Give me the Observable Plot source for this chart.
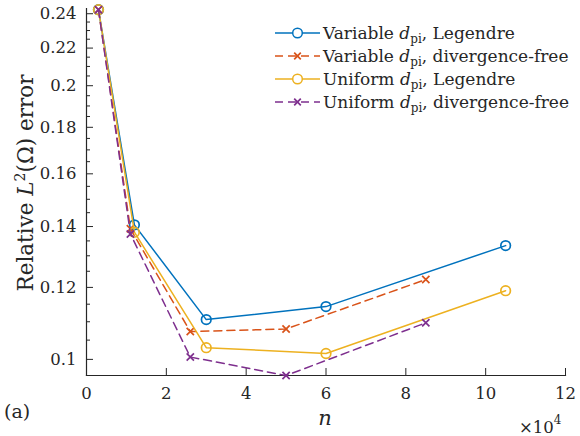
<!DOCTYPE html>
<html><head><meta charset="utf-8">
<script src="https://cdn.jsdelivr.net/npm/d3@7"></script>
<script src="https://cdn.jsdelivr.net/npm/@observablehq/plot@0.6"></script>
<style>
body{margin:0;background:#fff;}
#chart{position:relative;width:580px;height:436px;}
</style>
</head><body><div id="chart"></div>
<script>
// Degrees of freedom n for each marker type
const nCircle = [3000, 12000, 30000, 60000, 105000];
const nCross  = [3000, 11000, 26000, 50000, 85000];

// Relative L2 errors
const variableLegendre = [0.2425, 0.1406, 0.1106, 0.1143, 0.1334];
const variableDivFree  = [0.2425, 0.1392, 0.1073, 0.1080, 0.1224];
const uniformLegendre  = [0.2425, 0.1380, 0.1030, 0.1015, 0.1190];
const uniformDivFree   = [0.2425, 0.1374, 0.1006, 0.0960, 0.1097];

const seriesLabels = [
  ["Variable ", ", Legendre"],
  ["Variable ", ", divergence-free"],
  ["Uniform ", ", Legendre"],
  ["Uniform ", ", divergence-free"]
];
const seriesColors = ["#0072BD", "#D95319", "#EDB120", "#7E2F8E"];

const xTicks = [0, 20000, 40000, 60000, 80000, 100000, 120000];
const yTicks = [0.1, 0.12, 0.14, 0.16, 0.18, 0.2, 0.22, 0.24];
const yMinorTicks = [0.105, 0.11, 0.115, 0.125, 0.13, 0.135, 0.145, 0.15, 0.155,
  0.165, 0.17, 0.175, 0.185, 0.19, 0.195, 0.205, 0.21, 0.215, 0.225, 0.23, 0.235];

const series = [
  {x: nCircle, y: variableLegendre, color: seriesColors[0], dash: null, symbol: "circle"},
  {x: nCross,  y: variableDivFree,  color: seriesColors[1], dash: "8,5", symbol: "times"},
  {x: nCircle, y: uniformLegendre,  color: seriesColors[2], dash: null, symbol: "circle"},
  {x: nCross,  y: uniformDivFree,   color: seriesColors[3], dash: "8,5", symbol: "times"}
];

const W = 580, H = 436, mL = 86, mR = 15, mT = 8, mB = 61;
const plotW = W - mL - mR, plotH = H - mT - mB;
const ink = "#262626";
const txtFont = "DejaVu Serif";

const marks = [
  Plot.axisX(xTicks, {tickSize: 0, tickPadding: 12, tickFormat: d => String(d / 1e4), label: null,
    fill: ink, fontFamily: txtFont, fontSize: 16.5}),
  Plot.axisY(yTicks, {tickSize: 0, tickPadding: 10, tickFormat: d => String(d), label: null,
    fill: ink, fontFamily: txtFont, fontSize: 16.5}),
  Plot.tickY(yTicks, {y: d => d, insetRight: plotW - 7, stroke: ink, strokeWidth: 1}),
  Plot.tickY(yMinorTicks, {y: d => d, insetRight: plotW - 4, stroke: ink, strokeWidth: 1}),
  Plot.tickX(xTicks, {x: d => d, insetTop: plotH - 7, stroke: ink, strokeWidth: 1}),
  Plot.frame({anchor: "left", stroke: ink, strokeWidth: 1.2}),
  Plot.frame({anchor: "bottom", stroke: ink, strokeWidth: 1.2})
];
for (const s of series) {
  const rows = s.x.map((n, i) => ({n, err: s.y[i]}));
  marks.push(Plot.line(rows, {x: "n", y: "err", stroke: s.color, strokeWidth: 1.5, strokeDasharray: s.dash}));
  marks.push(Plot.dot(rows, {x: "n", y: "err", stroke: s.color, strokeWidth: 1.7, fill: "none",
    symbol: s.symbol, r: s.symbol === "circle" ? 4.8 : 3.4}));
}

const svg = Plot.plot({
  width: W, height: H,
  marginLeft: mL, marginRight: mR, marginTop: mT, marginBottom: mB,
  x: {domain: [0, 120000]},
  y: {type: "log", domain: [0.096, 0.2432]},
  style: {fontFamily: txtFont, fontSize: "16.5px", color: ink, background: "white", overflow: "visible"},
  marks
});
document.getElementById("chart").appendChild(svg);

const g = d3.select(svg).append("g").attr("fill", ink).attr("font-family", txtFont)
  .attr("text-anchor", "start");

// Y-axis label
const yl = g.append("text").attr("transform", "translate(33,183) rotate(-90)")
  .attr("text-anchor", "middle").attr("font-size", 21.5);
yl.append("tspan").text("Relative ");
yl.append("tspan").attr("font-style", "italic").text("L");
yl.append("tspan").attr("font-size", 14).attr("dy", -8).text("2");
yl.append("tspan").attr("dy", 8).text("(Ω) error");

// X-axis label
g.append("text").attr("x", 325).attr("y", 425).attr("text-anchor", "middle")
  .attr("font-size", 21).attr("font-style", "italic").text("n");

// Exponent
const ex = g.append("text").attr("x", 519).attr("y", 433).attr("font-size", 16.5);
ex.append("tspan").text("×10");
ex.append("tspan").attr("font-size", 12).attr("dy", -9).text("4");

// Panel tag
g.append("text").attr("x", 4).attr("y", 418).attr("font-size", 19).text("(a)");

// Legend
const legY0 = 33, legDy = 23;
series.forEach((s, i) => {
  const y = legY0 + i * legDy;
  const row = g.append("g");
  row.append("line").attr("x1", 275).attr("x2", 320).attr("y1", y).attr("y2", y)
    .attr("stroke", s.color).attr("stroke-width", 1.5).attr("stroke-dasharray", s.dash);
  if (s.symbol === "circle") {
    row.append("circle").attr("cx", 297.5).attr("cy", y).attr("r", 4.8)
      .attr("fill", "white").attr("stroke", s.color).attr("stroke-width", 1.5);
  } else {
    row.append("path").attr("d", d3.symbol(d3.symbolTimes, 30)().toString())
      .attr("transform", `translate(297.5,${y})`).attr("fill", "none")
      .attr("stroke", s.color).attr("stroke-width", 1.7);
  }
  const t = row.append("text").attr("x", 323).attr("y", y + 6).attr("font-size", 17);
  t.append("tspan").text(seriesLabels[i][0]);
  t.append("tspan").attr("font-style", "italic").text("d");
  t.append("tspan").attr("font-size", 12).attr("dy", 4).text("pi");
  t.append("tspan").attr("dy", -4).text(seriesLabels[i][1]);
});
</script>
</body></html>
